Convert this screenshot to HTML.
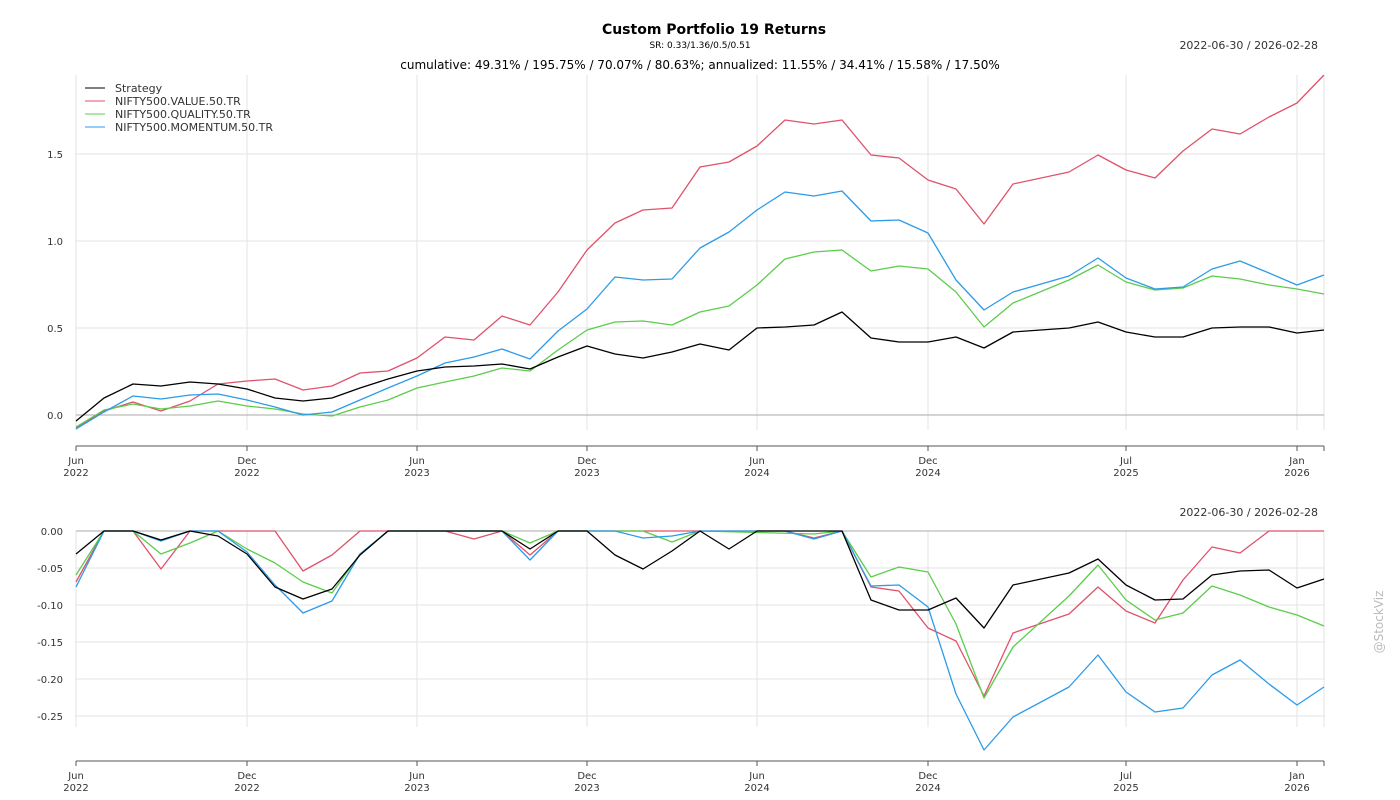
<!DOCTYPE html>
<html><head><meta charset="utf-8"><style>
html,body{margin:0;padding:0;background:#fff;}
svg{display:block;font-family:"DejaVu Sans","Liberation Sans",sans-serif;}
</style></head><body>
<svg width="1400" height="800" viewBox="0 0 1400 800">
<rect width="1400" height="800" fill="#fff"/>
<text x="714" y="34" font-size="14" font-weight="bold" text-anchor="middle" fill="#000">Custom Portfolio 19 Returns</text>
<text x="700" y="48" font-size="9" text-anchor="middle" fill="#000">SR: 0.33/1.36/0.5/0.51</text>
<text x="1318" y="49" font-size="11" text-anchor="end" fill="#333">2022-06-30 / 2026-02-28</text>
<text x="700" y="69" font-size="12" text-anchor="middle" fill="#000">cumulative: 49.31% / 195.75% / 70.07% / 80.63%; annualized: 11.55% / 34.41% / 15.58% / 17.50%</text>
<text x="1318" y="516" font-size="11" text-anchor="end" fill="#333">2022-06-30 / 2026-02-28</text>
<text x="1383" y="622" font-size="12" fill="#bbb" text-anchor="middle" transform="rotate(-90 1383 622)">@StockViz</text>

<g stroke="#e3e3e3" stroke-width="1">
<line x1="76" y1="75" x2="76" y2="430"/><line x1="247" y1="75" x2="247" y2="430"/><line x1="417" y1="75" x2="417" y2="430"/><line x1="587" y1="75" x2="587" y2="430"/><line x1="757" y1="75" x2="757" y2="430"/><line x1="928" y1="75" x2="928" y2="430"/><line x1="1126" y1="75" x2="1126" y2="430"/><line x1="1297" y1="75" x2="1297" y2="430"/><line x1="1324" y1="75" x2="1324" y2="430"/>
<line x1="76" y1="154" x2="1324" y2="154"/><line x1="76" y1="241" x2="1324" y2="241"/><line x1="76" y1="328" x2="1324" y2="328"/>
<line x1="76" y1="531" x2="76" y2="727"/><line x1="247" y1="531" x2="247" y2="727"/><line x1="417" y1="531" x2="417" y2="727"/><line x1="587" y1="531" x2="587" y2="727"/><line x1="757" y1="531" x2="757" y2="727"/><line x1="928" y1="531" x2="928" y2="727"/><line x1="1126" y1="531" x2="1126" y2="727"/><line x1="1297" y1="531" x2="1297" y2="727"/><line x1="1324" y1="531" x2="1324" y2="727"/>
<line x1="76" y1="568" x2="1324" y2="568"/><line x1="76" y1="605" x2="1324" y2="605"/><line x1="76" y1="642" x2="1324" y2="642"/><line x1="76" y1="679" x2="1324" y2="679"/><line x1="76" y1="716" x2="1324" y2="716"/>
</g>
<line x1="76" y1="415" x2="1324" y2="415" stroke="#aaa"/>
<line x1="76" y1="531" x2="1324" y2="531" stroke="#aaa"/>
<g stroke="#555" stroke-width="1">
<line x1="76" y1="446" x2="1324" y2="446"/><line x1="76" y1="761" x2="1324" y2="761"/>
<line x1="76" y1="446" x2="76" y2="451"/><line x1="247" y1="446" x2="247" y2="451"/><line x1="417" y1="446" x2="417" y2="451"/><line x1="587" y1="446" x2="587" y2="451"/><line x1="757" y1="446" x2="757" y2="451"/><line x1="928" y1="446" x2="928" y2="451"/><line x1="1126" y1="446" x2="1126" y2="451"/><line x1="1297" y1="446" x2="1297" y2="451"/><line x1="1324" y1="446" x2="1324" y2="451"/>
<line x1="76" y1="761" x2="76" y2="766"/><line x1="247" y1="761" x2="247" y2="766"/><line x1="417" y1="761" x2="417" y2="766"/><line x1="587" y1="761" x2="587" y2="766"/><line x1="757" y1="761" x2="757" y2="766"/><line x1="928" y1="761" x2="928" y2="766"/><line x1="1126" y1="761" x2="1126" y2="766"/><line x1="1297" y1="761" x2="1297" y2="766"/><line x1="1324" y1="761" x2="1324" y2="766"/>
</g>
<g font-size="10" fill="#333" text-anchor="middle">
<text x="76" y="464">Jun</text><text x="76" y="476">2022</text><text x="247" y="464">Dec</text><text x="247" y="476">2022</text><text x="417" y="464">Jun</text><text x="417" y="476">2023</text><text x="587" y="464">Dec</text><text x="587" y="476">2023</text><text x="757" y="464">Jun</text><text x="757" y="476">2024</text><text x="928" y="464">Dec</text><text x="928" y="476">2024</text><text x="1126" y="464">Jul</text><text x="1126" y="476">2025</text><text x="1297" y="464">Jan</text><text x="1297" y="476">2026</text>
<text x="76" y="779">Jun</text><text x="76" y="791">2022</text><text x="247" y="779">Dec</text><text x="247" y="791">2022</text><text x="417" y="779">Jun</text><text x="417" y="791">2023</text><text x="587" y="779">Dec</text><text x="587" y="791">2023</text><text x="757" y="779">Jun</text><text x="757" y="791">2024</text><text x="928" y="779">Dec</text><text x="928" y="791">2024</text><text x="1126" y="779">Jul</text><text x="1126" y="791">2025</text><text x="1297" y="779">Jan</text><text x="1297" y="791">2026</text>
</g>
<g font-size="10" fill="#333" text-anchor="end">
<text x="63" y="158">1.5</text><text x="63" y="245">1.0</text><text x="63" y="332">0.5</text><text x="63" y="419">0.0</text>
<text x="63" y="535">0.00</text><text x="63" y="572">-0.05</text><text x="63" y="609">-0.10</text><text x="63" y="646">-0.15</text><text x="63" y="683">-0.20</text><text x="63" y="720">-0.25</text>
</g>
<g fill="none" stroke-width="1.3" stroke-linejoin="round">
<polyline stroke="#e0526a" points="76,428 104,411 133,402 161,411 190,401 218,384 247,381 275,379 303,390 332,386 360,373 388,371 417,358 445,337 474,340 502,316 530,325 558,292 587,250 615,223 643,210 672,208 700,167 729,162 757,146 785,120 814,124 842,120 871,155 899,158 928,180 956,189 984,224 1013,184 1069,172 1098,155 1126,170 1155,178 1183,151 1212,129 1240,134 1269,117 1297,103 1324,75"/>
<polyline stroke="#5ccc4c" points="76,427 104,410 133,404 161,409 190,406 218,401 247,406 275,409 303,414 332,416 360,407 388,400 417,388 445,382 474,376 502,368 530,371 558,350 587,330 615,322 643,321 672,325 700,312 729,306 757,285 785,259 814,252 842,250 871,271 899,266 928,269 956,292 984,327 1013,303 1069,280 1098,265 1126,282 1155,290 1183,288 1212,276 1240,279 1269,285 1297,289 1324,294"/>
<polyline stroke="#2c9be8" points="76,429 104,412 133,396 161,399 190,395 218,394 247,400 275,407 303,415 332,412 360,400 388,388 417,376 445,363 474,357 502,349 530,359 558,331 587,309 615,277 643,280 672,279 700,248 729,232 757,210 785,192 814,196 842,191 871,221 899,220 928,233 956,280 984,310 1013,292 1069,276 1098,258 1126,278 1155,289 1183,287 1212,269 1240,261 1269,273 1297,285 1324,275"/>
<polyline stroke="#000" points="76,421 104,398 133,384 161,386 190,382 218,384 247,389 275,398 303,401 332,398 360,388 388,379 417,371 445,367 474,366 502,364 530,369 558,357 587,346 615,354 643,358 672,352 700,344 729,350 757,328 785,327 814,325 842,312 871,338 899,342 928,342 956,337 984,348 1013,332 1069,328 1098,322 1126,332 1155,337 1183,337 1212,328 1240,327 1269,327 1297,333 1324,330"/>

<polyline stroke="#e0526a" points="76,582 104,531 133,531 161,569 190,531 218,531 247,531 275,531 303,571 332,555 360,531 445,531 474,539 502,531 530,555 558,531 785,531 814,538 842,531 871,587 899,591 928,628 956,641 984,696 1013,633 1069,614 1098,587 1126,611 1155,623 1183,580 1212,547 1240,553 1269,531 1324,531"/>
<polyline stroke="#5ccc4c" points="76,575 104,531 133,531 161,554 190,543 218,531 247,549 275,563 303,582 332,593 360,554 388,531 502,531 530,543 558,531 643,531 672,542 700,531 814,534 842,531 871,577 899,567 928,572 956,624 984,698 1013,647 1069,596 1098,565 1126,600 1155,620 1183,613 1212,586 1240,595 1269,607 1297,615 1324,626"/>
<polyline stroke="#2c9be8" points="76,587 104,531 133,531 161,541 190,531 218,531 247,552 275,585 303,613 332,601 360,554 388,531 502,531 530,560 558,531 615,531 643,538 672,536 700,531 785,531 814,539 842,531 871,586 899,585 928,607 956,694 984,750 1013,717 1069,687 1098,655 1126,692 1155,712 1183,708 1212,675 1240,660 1269,684 1297,705 1324,687"/>
<polyline stroke="#000" points="76,554 104,531 133,531 161,540 190,531 218,536 247,554 275,587 303,599 332,589 360,555 388,531 502,531 530,549 558,531 587,531 615,555 643,569 672,551 700,531 729,549 757,531 842,531 871,600 899,610 928,610 956,598 984,628 1013,585 1069,573 1098,559 1126,585 1155,600 1183,599 1212,575 1240,571 1269,570 1297,588 1324,579"/>
</g>
<g font-size="11" fill="#333">
<line x1="85" y1="88" x2="105" y2="88" stroke="#000"/><text x="115" y="92">Strategy</text>
<line x1="85" y1="101" x2="105" y2="101" stroke="#e0526a"/><text x="115" y="105">NIFTY500.VALUE.50.TR</text>
<line x1="85" y1="114" x2="105" y2="114" stroke="#5ccc4c"/><text x="115" y="118">NIFTY500.QUALITY.50.TR</text>
<line x1="85" y1="127" x2="105" y2="127" stroke="#2c9be8"/><text x="115" y="131">NIFTY500.MOMENTUM.50.TR</text>
</g>
</svg>
</body></html>
